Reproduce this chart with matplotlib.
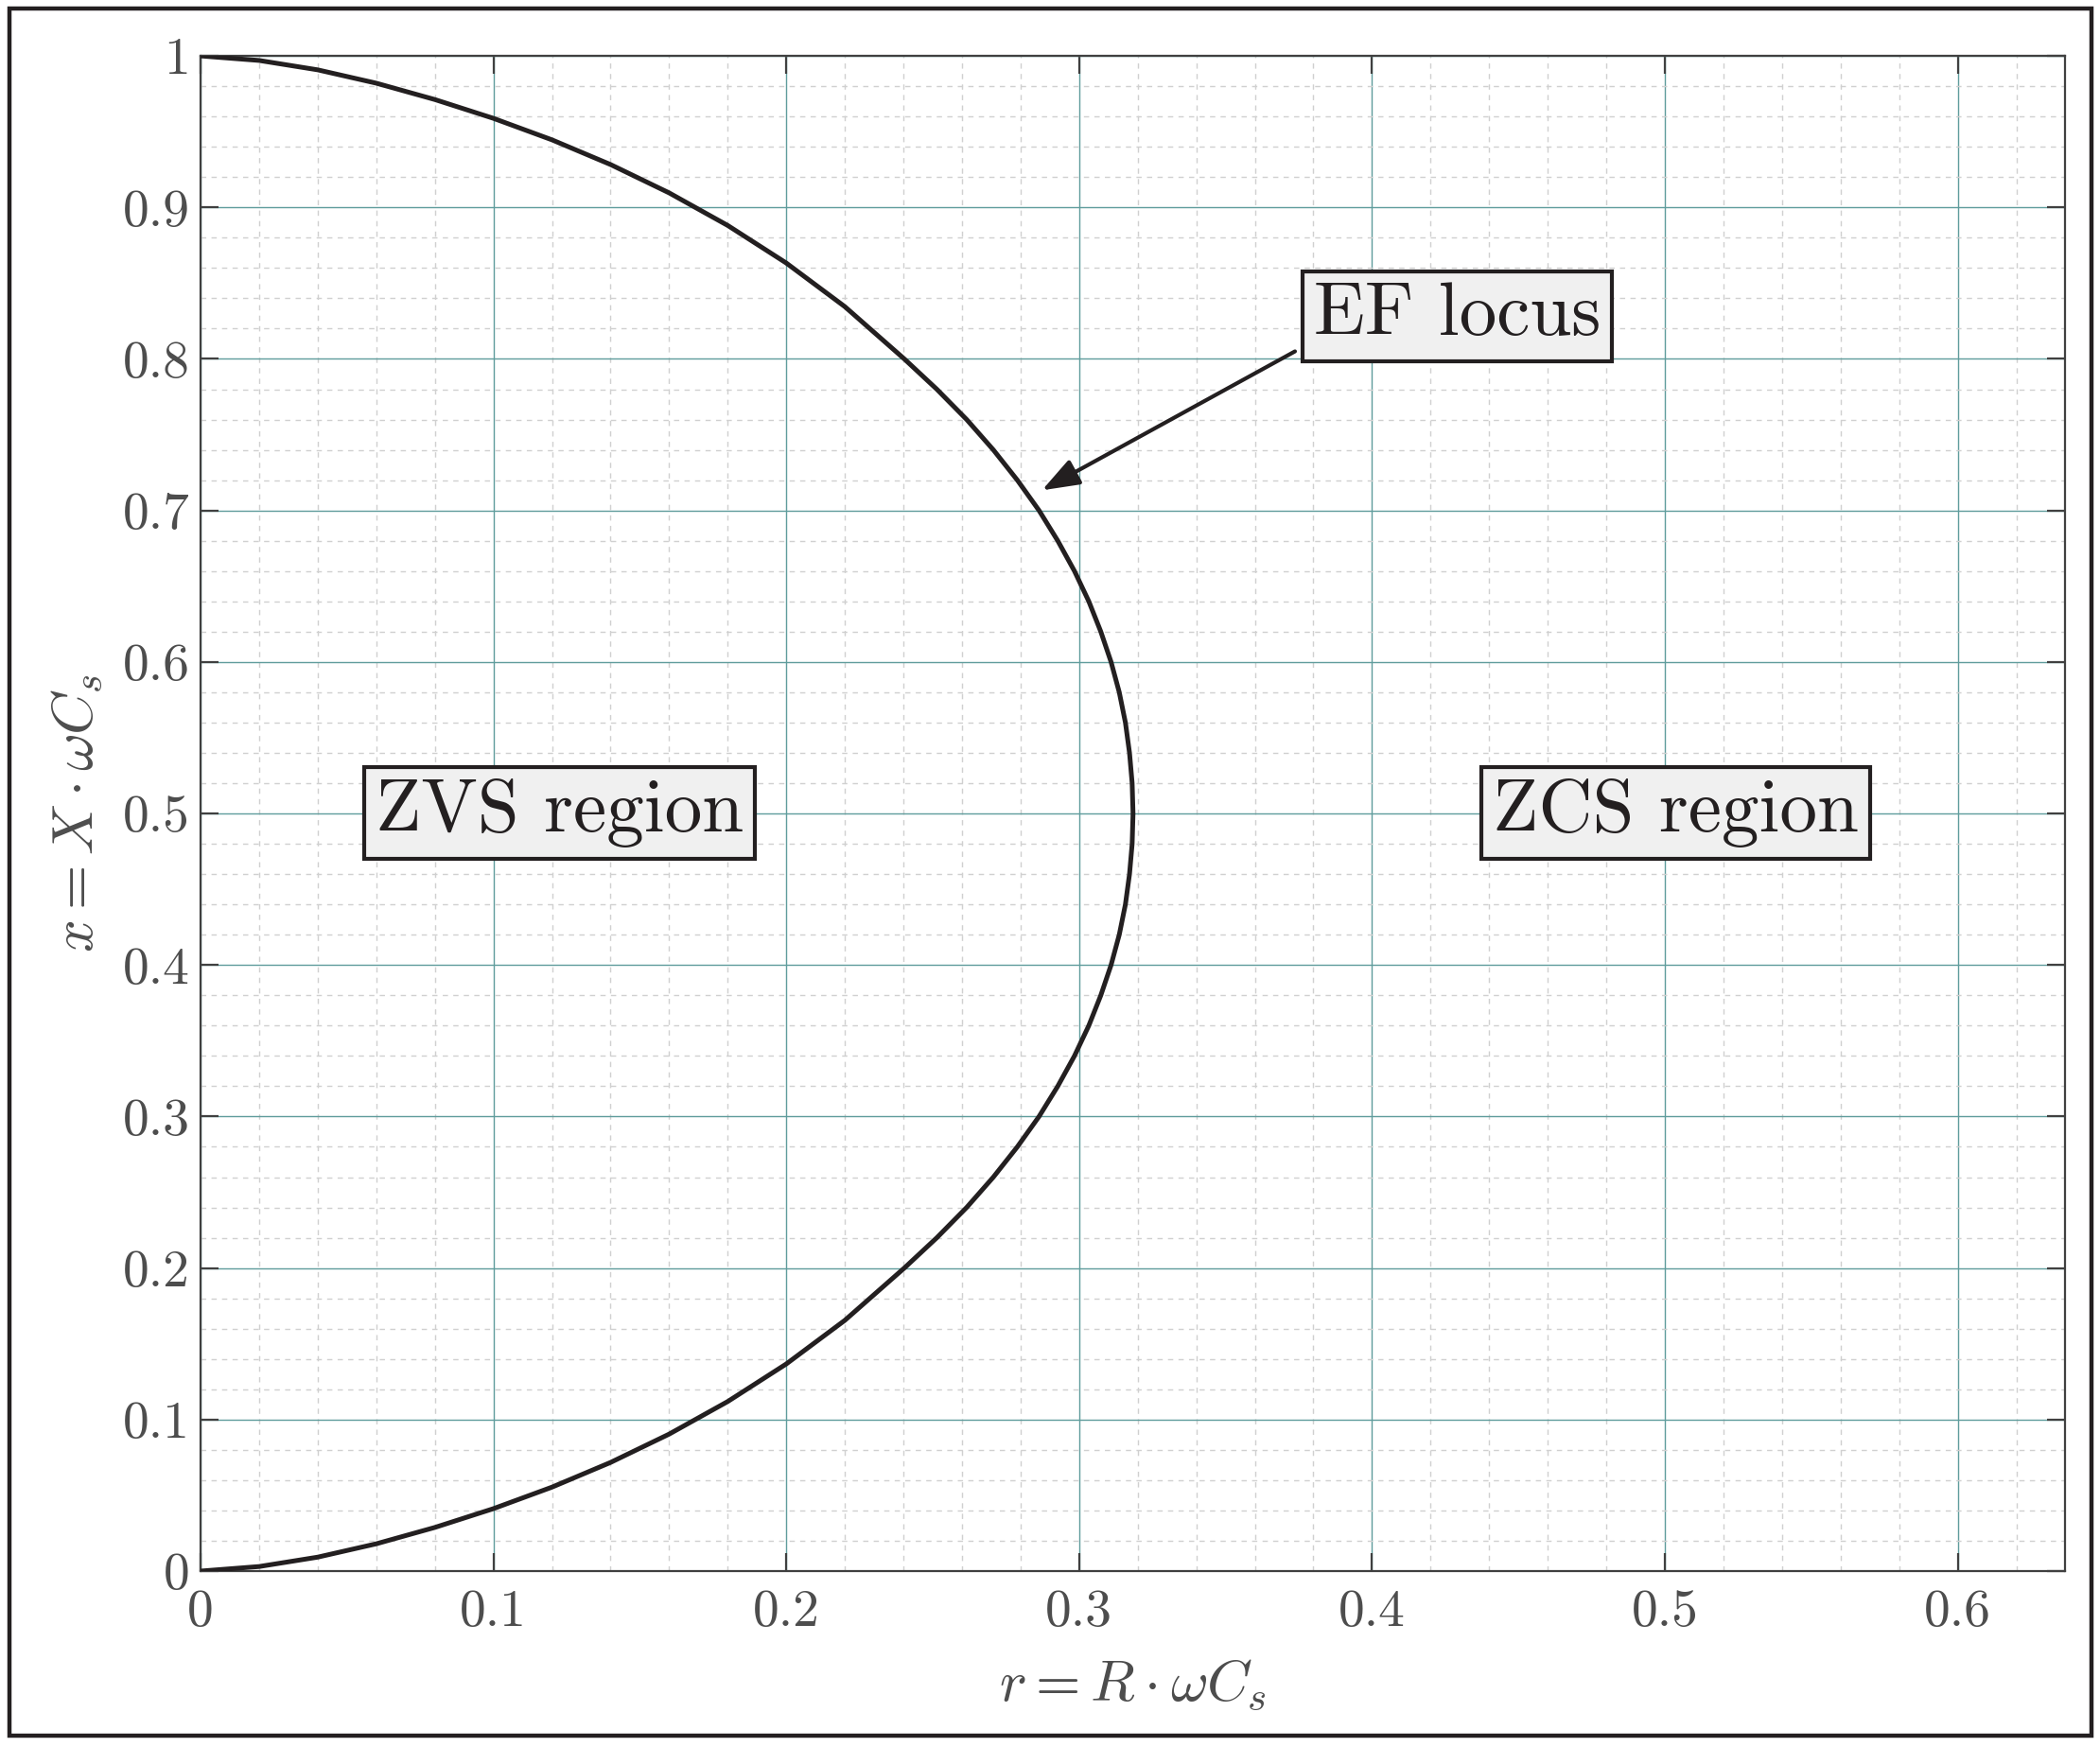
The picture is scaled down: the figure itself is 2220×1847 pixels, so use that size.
import matplotlib
matplotlib.use("Agg")
import matplotlib.pyplot as plt
from matplotlib.patches import Rectangle
from matplotlib.ticker import FixedLocator, FixedFormatter, MultipleLocator

plt.rcParams["font.family"] = "serif"
plt.rcParams["font.serif"] = ["cmr10", "DejaVu Serif"]
plt.rcParams["mathtext.fontset"] = "cm"
plt.rcParams["axes.unicode_minus"] = False

# ------------------------------------------------------------
# EF locus (r = R*wCs, x = X*wCs)
# ------------------------------------------------------------
r_locus = [0.0, 0.02, 0.04, 0.06, 0.08, 0.10, 0.12, 0.14, 0.16, 0.18, 0.20,
           0.22, 0.2403, 0.2514, 0.2616, 0.2707, 0.2789, 0.2863, 0.2927,
           0.2984, 0.3033, 0.3074, 0.3109, 0.3137, 0.3158, 0.3172, 0.3181,
           0.3184,
           0.3181, 0.3172, 0.3158, 0.3137, 0.3109, 0.3074, 0.3033, 0.2984,
           0.2927, 0.2863, 0.2789, 0.2707, 0.2616, 0.2514, 0.2403, 0.22,
           0.20, 0.18, 0.16, 0.14, 0.12, 0.10, 0.08, 0.06, 0.04, 0.02, 0.0]
x_locus = [0.0, 0.003, 0.0092, 0.018, 0.0288, 0.0412, 0.0554, 0.0717, 0.0904,
           0.1119, 0.1367, 0.1655, 0.20, 0.22, 0.24, 0.26, 0.28, 0.30, 0.32,
           0.34, 0.36, 0.38, 0.40, 0.42, 0.44, 0.46, 0.48, 0.50,
           0.52, 0.54, 0.56, 0.58, 0.60, 0.62, 0.64, 0.66, 0.68, 0.70, 0.72,
           0.74, 0.76, 0.78, 0.80, 0.8345, 0.8633, 0.8881, 0.9096, 0.9283,
           0.9446, 0.9588, 0.9712, 0.982, 0.9908, 0.997, 1.0]

x_ticks = [0, 0.1, 0.2, 0.3, 0.4, 0.5, 0.6]
x_tick_labels = ["0", "0.1", "0.2", "0.3", "0.4", "0.5", "0.6"]
y_ticks = [0, 0.1, 0.2, 0.3, 0.4, 0.5, 0.6, 0.7, 0.8, 0.9, 1.0]
y_tick_labels = ["0", "0.1", "0.2", "0.3", "0.4", "0.5", "0.6", "0.7", "0.8",
                 "0.9", "1"]

# annotation anchors (data coords)
ef_text_pos = (0.4292, 0.828)
ef_arrow_tail = (0.3737, 0.805)
ef_arrow_head = (0.2873, 0.7133)
zvs_pos = (0.1227, 0.5005)
zcs_pos = (0.5037, 0.5005)

TXT = "#231f20"
AX = "#4d4d4d"

fig = plt.figure(figsize=(11.1, 9.235), dpi=200)
ax = fig.add_axes([0.0955, 0.1007, 0.8878, 0.8673])

ax.plot(r_locus, x_locus, color=TXT, lw=1.8, zorder=3,
        solid_joinstyle="round")

ax.set_xlim(0, 0.6366)
ax.set_ylim(0, 1)

ax.xaxis.set_major_locator(FixedLocator(x_ticks))
ax.xaxis.set_major_formatter(FixedFormatter(x_tick_labels))
ax.yaxis.set_major_locator(FixedLocator(y_ticks))
ax.yaxis.set_major_formatter(FixedFormatter(y_tick_labels))
ax.xaxis.set_minor_locator(MultipleLocator(0.02))
ax.yaxis.set_minor_locator(MultipleLocator(0.02))

ax.grid(True, which="major", color="#5f9c9c", lw=0.5)
ax.grid(True, which="minor", color="#d0d0d0", lw=0.5, linestyle=(0, (4, 4)))
ax.set_axisbelow(True)

ax.tick_params(which="major", direction="in", length=7, width=0.8,
               color="#404040", top=True, right=True, labelsize=20,
               labelcolor=AX)
ax.tick_params(axis="x", which="major", pad=7)
ax.tick_params(axis="y", which="major", pad=4)
ax.tick_params(which="minor", length=0)
for s in ax.spines.values():
    s.set_color("#404040")
    s.set_linewidth(0.8)

ax.set_xlabel(r"$r = R \cdot \omega C_s$", fontsize=22, color=AX, labelpad=8)
ax.set_ylabel(r"$x = X \cdot \omega C_s$", fontsize=22, color=AX, labelpad=7)

box = dict(boxstyle="square,pad=0.15", fc="#f0f0f0", ec=TXT, lw=1.5)
ax.text(*ef_text_pos, "EF locus", fontsize=28.5, color=TXT, ha="center",
        va="center", bbox=box, zorder=5)
ax.text(*zvs_pos, "ZVS region", fontsize=28.5, color=TXT, ha="center",
        va="center", bbox=box, zorder=5)
ax.text(*zcs_pos, "ZCS region", fontsize=28.5, color=TXT, ha="center",
        va="center", bbox=box, zorder=5)
ax.annotate("", xy=ef_arrow_head, xytext=ef_arrow_tail,
            arrowprops=dict(arrowstyle="-|>,head_length=0.6,head_width=0.22",
                            mutation_scale=20, lw=1.5, color=TXT,
                            shrinkA=0, shrinkB=0), zorder=4)

# outer frame around the whole figure
fig.patches.append(Rectangle((0.0043, 0.0065), 0.9916, 0.9886,
                             transform=fig.transFigure, fill=False,
                             lw=1.6, ec=TXT))

fig.savefig("out.png", dpi=200)
